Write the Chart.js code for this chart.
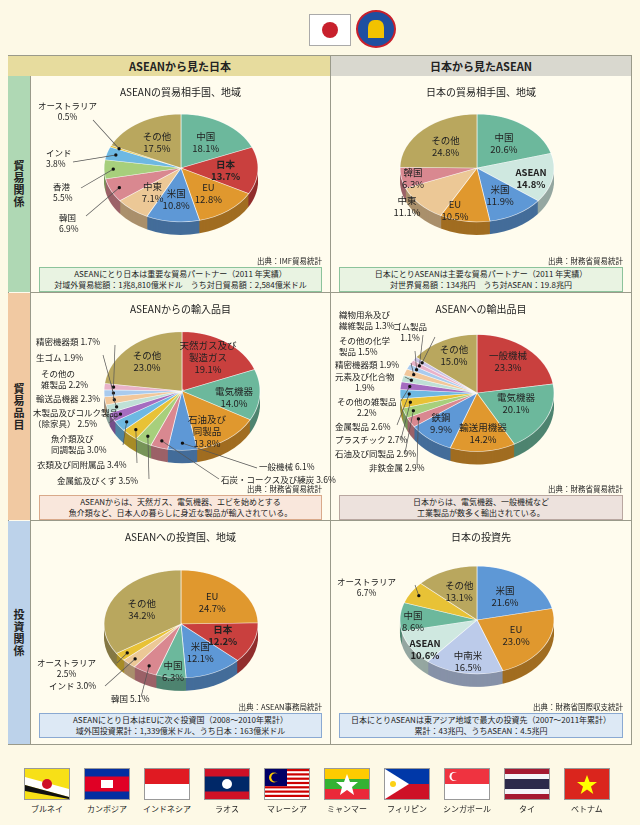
<!DOCTYPE html>
<html><head><meta charset="utf-8">
<script src="https://cdn.jsdelivr.net/npm/chart.js@4"></script>
<style>
body{margin:0;width:640px;height:825px;background:#fdf9e6;font-family:"Noto Sans CJK JP",sans-serif;color:#222;position:relative;overflow:hidden}
.abs{position:absolute}
.cell{position:absolute;background:#fffcee}
.ttl{position:absolute;left:0;right:0;text-align:center;font-size:10px}
.src{position:absolute;right:8px;font-size:7.5px}
.box{position:absolute;left:8px;right:8px;font-size:8px;line-height:10.5px;text-align:center;border:1px solid;padding:1px 0}
.lab{position:absolute;font-size:8.5px;line-height:11px;white-space:pre;z-index:3}
.in{position:absolute;font-size:9.5px;line-height:12px;white-space:pre;text-align:center;transform:translate(-50%,-50%);z-index:3}
.rowl{position:absolute;left:8px;width:22px;font-size:11px;font-weight:bold;writing-mode:vertical-rl;text-orientation:upright;display:flex;align-items:center;justify-content:center;letter-spacing:1px}
.flag{position:absolute;top:768px;width:44px;height:30px;border:1px solid #999}
.fn{position:absolute;top:803px;width:62px;text-align:center;font-size:8px}
canvas{position:absolute;left:0;top:0}
</style></head><body>
<script>
// ---------- DATA ----------
const c1Cats=['中国','日本','EU','米国','中東','韓国','香港','インド','オーストラリア','その他'];
const c1Vals=[18.1,13.7,12.8,10.8,7.1,6.9,5.5,3.8,0.5,17.5];
const c2Cats=['中国','ASEAN','米国','EU','中東','韓国','その他'];
const c2Vals=[20.6,14.8,11.9,10.5,11.1,6.3,24.8];
const c3Cats=['天然ガス及び\n製造ガス','電気機器','石油及び\n同製品','一般機械','石炭・コークス及び練炭','金属鉱及びくず','衣類及び同附属品','魚介類及び\n同調製品','木製品及びコルク製品\n（除家具）','輸送品機器','その他の\n雑製品','生ゴム','精密機器類','その他'];
const c3Vals=[19.1,14.0,13.8,6.1,3.6,3.5,3.4,3.0,2.5,2.3,2.2,1.9,1.7,23.0];
const c4Cats=['一般機械','電気機器','輸送用機器','鉄鋼','非鉄金属','石油及び同製品','プラスチック','金属製品','その他の雑製品','元素及び化合物','精密機器類','その他の化学\n製品','織物用糸及び\n繊維製品','ゴム製品','その他'];
const c4Vals=[23.3,20.1,14.2,9.9,2.9,2.9,2.7,2.6,2.2,1.9,1.9,1.5,1.3,1.1,15.0];
const c5Cats=['EU','日本','米国','中国','韓国','インド','オーストラリア','その他'];
const c5Vals=[24.7,12.2,12.1,6.3,5.1,3.0,2.5,34.2];
const c6Cats=['米国','EU','中南米','ASEAN','中国','オーストラリア','その他'];
const c6Vals=[21.6,23.0,16.5,10.6,8.6,6.7,13.1];
const countries=['ブルネイ','カンボジア','インドネシア','ラオス','マレーシア','ミャンマー','フィリピン','シンガポール','タイ','ベトナム'];
// ---------- STYLE ----------
const T='#6cb89c',R='#c9403e',O='#e0982e',B='#5e98d6',W='#ecc896',P='#d98890',G='#a7cf7c',LB='#6db8e2',Y='#e8c236',OL='#b9a75e',PU='#a56cc0',PT='#bfe0d6',PE='#f2c79a',PK='#e9b2c8',LV='#c9c2e6';
const c1Col=[T,R,O,B,W,P,G,LB,Y,OL];
const c2Col=[T,'#cfe8e0',B,O,W,P,OL];
const c3Col=[R,T,O,B,P,G,Y,LB,PU,PT,PE,'#a9cbee',PK,OL];
const c4Col=[R,T,O,B,P,G,Y,LB,PU,PT,PE,'#a9cbee',PK,LV,OL];
const c5Col=[O,R,B,T,P,W,Y,OL];
const c6Col=[B,O,'#bccbea','#cfe8e0',T,Y,OL];
</script>

<div class="abs" style="left:309px;top:14px;width:40px;height:30px;background:#fff;border:1px solid #aaa"><div class="abs" style="left:12px;top:7px;width:16px;height:16px;border-radius:50%;background:#c8202c"></div></div>
<div class="abs" style="left:356px;top:10px;width:40px;height:38px;border-radius:50%;background:#1f4fa0;border:2px solid #c8202c;box-sizing:border-box"><div class="abs" style="left:10px;top:8px;width:16px;height:18px;background:#f2c200;border-radius:40% 40% 0 0"></div></div>

<div class="abs" style="left:8px;top:55px;width:624px;height:690px;background:#fffcee;border:1px solid #9a9a8a;box-sizing:border-box"></div>
<div class="abs" style="left:30px;top:56px;width:300px;height:20px;background:#e7dc9e;font-size:11px;font-weight:bold;text-align:center;line-height:20px">ASEANから見た日本</div>
<div class="abs" style="left:331px;top:56px;width:300px;height:20px;background:#d9d8cf;font-size:11px;font-weight:bold;text-align:center;line-height:20px">日本から見たASEAN</div>
<div class="abs" style="left:8px;top:56px;width:22px;height:20px;background:#e7dc9e"></div>
<div class="rowl" style="top:76px;height:216px;background:#afd8b4">貿易関係</div>
<div class="rowl" style="top:293px;height:227px;background:#f1c9a2">貿易品目</div>
<div class="rowl" style="top:521px;height:223px;background:#bcd2ea">投資関係</div>
<div class="abs" style="left:330px;top:56px;width:1px;height:688px;background:#9a9a8a"></div>
<div class="abs" style="left:30px;top:292px;width:601px;height:1px;background:#9a9a8a"></div>
<div class="abs" style="left:30px;top:520px;width:601px;height:1px;background:#9a9a8a"></div>
<div class="abs" style="left:30px;top:76px;width:1px;height:668px;background:#9a9a8a"></div>

<div id="cells"></div>

<script>
const tilt={id:'tilt',
 beforeDatasetsDraw(chart,a,o){
  const ctx=chart.ctx,arcs=chart.getDatasetMeta(0).data;
  const cx=arcs[0].x,cy=arcs[0].y,r=arcs[0].outerRadius,s=o.scale,d=o.depth;
  const cols=chart.data.datasets[0].backgroundColor;
  ctx.save();ctx.translate(cx,cy);ctx.scale(1,s);
  for(let k=d;k>=1;k--){arcs.forEach((ar,i)=>{ctx.beginPath();ctx.moveTo(0,k/s);ctx.arc(0,k/s,r,ar.startAngle,ar.endAngle);ctx.closePath();ctx.fillStyle=shade(cols[i],0.72);ctx.fill();});}
  arcs.forEach((ar,i)=>{ctx.beginPath();ctx.moveTo(0,0);ctx.arc(0,0,r,ar.startAngle,ar.endAngle);ctx.closePath();ctx.fillStyle=cols[i];ctx.fill();ctx.strokeStyle='rgba(255,255,255,0.8)';ctx.lineWidth=0.8;ctx.stroke();});
  ctx.restore();
  ctx.save();ctx.strokeStyle='#555';ctx.lineWidth=0.7;ctx.fillStyle='#111';
  (o.out||[]).forEach(q=>{const ar=arcs[q[0]],m=(ar.startAngle+ar.endAngle)/2;
   const px=cx+Math.cos(m)*r*0.88,py=cy+Math.sin(m)*r*0.88*s;
   ctx.beginPath();ctx.moveTo(px,py);ctx.lineTo(q[3],q[4]);ctx.stroke();
   ctx.beginPath();ctx.arc(px,py,1.6,0,7);ctx.fill();});
  ctx.restore();
  return false;
 },
 afterDraw(chart,a,o){
  if(chart._lbl)return;chart._lbl=1;
  const arcs=chart.getDatasetMeta(0).data,cx=arcs[0].x,cy=arcs[0].y,r=arcs[0].outerRadius,s=o.scale;
  const outIdx=(o.out||[]).map(q=>q[0]);
  const cats=chart.data.labels,vals=chart.data.datasets[0].data;
  arcs.forEach((ar,i)=>{
   if(outIdx.includes(i))return;
   const m=(ar.startAngle+ar.endAngle)/2,f=0.58;
   const el=document.createElement('div');el.className='in';
   let x=cx+Math.cos(m)*r*f,y=cy+Math.sin(m)*r*f*s;
   if(o.pos&&o.pos[i]){x=o.pos[i][0];y=o.pos[i][1];}
   el.style.left=x+'px';el.style.top=y+'px';
   el.textContent=cats[i]+'\n'+vals[i].toFixed(1)+'%';
   if((o.bold||[]).includes(i))el.style.fontWeight='bold';
   o.host.appendChild(el);});
  (o.out||[]).forEach(q=>{const el=document.createElement('div');el.className='lab';
   el.style.left=q[1]+'px';el.style.top=q[2]+'px';
   el.textContent=cats[q[0]]+(q[5]?'\n':' ')+vals[q[0]].toFixed(1)+'%';
   if(q[6])el.style.textAlign=q[6];
   o.host.appendChild(el);});
 }};
function shade(h,k){const n=parseInt(h.slice(1),16);return 'rgb('+[(n>>16)&255,(n>>8)&255,n&255].map(v=>Math.round(v*k)).join(',')+')';}

Chart.defaults.font.family='"Noto Sans CJK JP"';
function cell(x,y,w,h,title,src,box,boxStyle,cats,vals,cols,cx,cy,Rr,sc,out,bold,pos){
 const c=document.createElement('div');c.className='cell';
 c.style.cssText=`left:${x}px;top:${y}px;width:${w}px;height:${h}px`;
 document.getElementById('cells').appendChild(c);
 const cv=document.createElement('canvas');cv.width=w;cv.height=h;c.appendChild(cv);
 const t=document.createElement('div');t.className='ttl';t.style.top='8px';t.textContent=title;c.appendChild(t);
 const s=document.createElement('div');s.className='src';s.style.top=(box.top-12)+'px';s.textContent=src;c.appendChild(s);
 const b=document.createElement('div');b.className='box';b.style.cssText+=`top:${box.top}px;`+boxStyle;b.innerHTML=box.text;c.appendChild(b);
 new Chart(cv,{type:'pie',data:{labels:cats,datasets:[{data:vals,backgroundColor:cols}]},
  options:{responsive:false,animation:false,events:[],devicePixelRatio:2,
   layout:{padding:{left:cx-Rr,right:w-cx-Rr,top:cy-Rr,bottom:h-cy-Rr}},
   plugins:{legend:{display:false},tooltip:{enabled:false},tilt:{scale:sc,depth:13,out:out,bold:bold,pos:pos,host:c}}},
  plugins:[tilt]});
 cv.style.width=w+'px';cv.style.height=h+'px';
}
const gB='background:#e9f3e2;border-color:#8cc39b;',oB='background:#f9e7dc;border-color:#d9a98a;',bB='background:#dde9f5;border-color:#8aa9d2;',rB='background:#ede2dd;border-color:#b9a7a0;';

cell(31,76,299,216,'ASEANの貿易相手国、地域','出典：IMF貿易統計',{top:191,text:'ASEANにとり日本は重要な貿易パートナー（2011 年実績）<br>対域外貿易総額：1兆8,810億米ドル　うち対日貿易額：2,584億米ドル'},gB,
 c1Cats,c1Vals,c1Col,150,92,78,0.7,
 [[8,7,24,62,44,1,'center'],[7,15,71,42,86,1],[6,22,105,50,112,1],[5,28,136,55,140,1]],[1],{});
cell(331,76,300,216,'日本の貿易相手国、地域','出典：財務省貿易統計',{top:191,text:'日本にとりASEANは主要な貿易パートナー（2011 年実績）<br>対世界貿易額：134兆円　うち対ASEAN：19.8兆円'},gB,
 c2Cats,c2Vals,c2Col,146,92,78,0.7,[],[1],{1:[200,102],3:[124,134],4:[76,130],5:[82,102]});
cell(31,293,299,227,'ASEANからの輸入品目','出典：財務省貿易統計',{top:202,text:'ASEANからは、天然ガス、電気機器、エビを始めとする<br>魚介類など、日本人の暮らしに身近な製品が輸入されている。'},oB,
 c3Cats,c3Vals,c3Col,151,98,79,0.76,
 [[12,5,43,84,52,0],[11,5,59,72,62,0],[10,10,75,80,90,0],[9,5,100,82,104,0],[8,2,114,78,130,0],[7,20,140,92,152,0],[6,6,166,106,170,0],[5,26,182,118,186,0],[3,228,168,226,175,0],[4,190,181,188,186,0]],[],
 {0:[177,64],1:[203,104],2:[176,138],13:[116,68]});
cell(331,293,300,227,'ASEANへの輸出品目','出典：財務省貿易統計',{top:202,text:'日本からは、電気機器、一般機械など<br>工業製品が数多く輸出されている。'},rB,
 c4Cats,c4Vals,c4Col,146,100,78,0.76,
 [[12,8,16,92,42,0],[13,62,28,104,44,1,'center'],[11,8,42,84,58,0],[10,4,66,80,70,0],[9,4,78,74,84,1,'center'],[8,6,103,70,108,1,'center'],[7,4,128,66,132,0],[6,4,141,70,146,0],[5,4,155,74,160,0],[4,38,169,86,172,0]],[],
 {0:[177,68],1:[185,110],2:[152,140],3:[110,130],14:[123,62]});
cell(31,521,299,223,'ASEANへの投資国、地域','出典：ASEAN事務局統計',{top:192,text:'ASEANにとり日本はEUに次ぐ投資国（2008～2010年累計）<br>域外国投資累計：1,339億米ドル、うち日本：163億米ドル'},bB,
 c5Cats,c5Vals,c5Col,150,103,78,0.7,
 [[6,6,136,86,142,1,'center'],[5,18,159,74,165,0],[4,80,172,110,176,0]],[1],{3:[142,150]});
cell(331,521,300,223,'日本の投資先','出典：財務省国際収支統計',{top:192,text:'日本にとりASEANは東アジア地域で最大の投資先（2007～2011年累計）<br>累計：43兆円、うちASEAN：4.5兆円'},bB,
 c6Cats,c6Vals,c6Col,146,99,78,0.7,
 [[5,6,55,84,64,1,'center']],[3],{2:[137,140],3:[94,128],4:[82,100]});

const flagSvg=[
 '<rect width="44" height="30" fill="#f7e017"/><polygon points="0,8 44,20 44,28 0,16" fill="#fff"/><polygon points="0,16 44,28 44,30 0,22" fill="#111"/><circle cx="22" cy="15" r="5" fill="#cf1126"/>',
 '<rect width="44" height="30" fill="#032ea1"/><rect y="7.5" width="44" height="15" fill="#e00025"/><rect x="16" y="11" width="12" height="8" fill="#fff"/>',
 '<rect width="44" height="15" fill="#e01a22"/><rect y="15" width="44" height="15" fill="#fff"/>',
 '<rect width="44" height="30" fill="#ce1126"/><rect y="7.5" width="44" height="15" fill="#002868"/><circle cx="22" cy="15" r="5" fill="#fff"/>',
 '<rect width="44" height="30" fill="#fff"/><g fill="#cc0001"><rect y="0" width="44" height="2.2"/><rect y="4.3" width="44" height="2.2"/><rect y="8.6" width="44" height="2.2"/><rect y="12.9" width="44" height="2.2"/><rect y="17.2" width="44" height="2.2"/><rect y="21.5" width="44" height="2.2"/><rect y="25.8" width="44" height="2.2"/></g><rect width="22" height="17" fill="#010066"/><circle cx="9" cy="8.5" r="5" fill="#fc0"/><circle cx="10.5" cy="8.5" r="4.2" fill="#010066"/>',
 '<rect width="44" height="10" fill="#fecb00"/><rect y="10" width="44" height="10" fill="#34b233"/><rect y="20" width="44" height="10" fill="#ea2839"/><polygon points="22,5 25,13 33,13 27,18 29,26 22,21 15,26 17,18 11,13 19,13" fill="#fff"/>',
 '<rect width="44" height="15" fill="#0038a8"/><rect y="15" width="44" height="15" fill="#ce1126"/><polygon points="0,0 24,15 0,30" fill="#fff"/><circle cx="8" cy="15" r="3" fill="#fcd116"/>',
 '<rect width="44" height="15" fill="#ef3340"/><rect y="15" width="44" height="15" fill="#fff"/><circle cx="9" cy="7.5" r="4.5" fill="#fff"/><circle cx="10.5" cy="7.5" r="4" fill="#ef3340"/>',
 '<rect width="44" height="30" fill="#a51931"/><rect y="5" width="44" height="20" fill="#f4f5f8"/><rect y="10" width="44" height="10" fill="#2d2a4a"/>',
 '<rect width="44" height="30" fill="#da251d"/><polygon points="22,6 24.6,13 32,13 26,17.5 28.3,25 22,20.5 15.7,25 18,17.5 12,13 19.4,13" fill="#ff0"/>'];
countries.forEach((n,i)=>{const x=24+i*60;
 const f=document.createElement('div');f.className='flag';f.style.left=x+'px';
 f.innerHTML='<svg width="44" height="30" viewBox="0 0 44 30">'+flagSvg[i]+'</svg>';document.body.appendChild(f);
 const l=document.createElement('div');l.className='fn';l.style.left=(x-8)+'px';l.textContent=n;document.body.appendChild(l);});
</script>
</body></html>
